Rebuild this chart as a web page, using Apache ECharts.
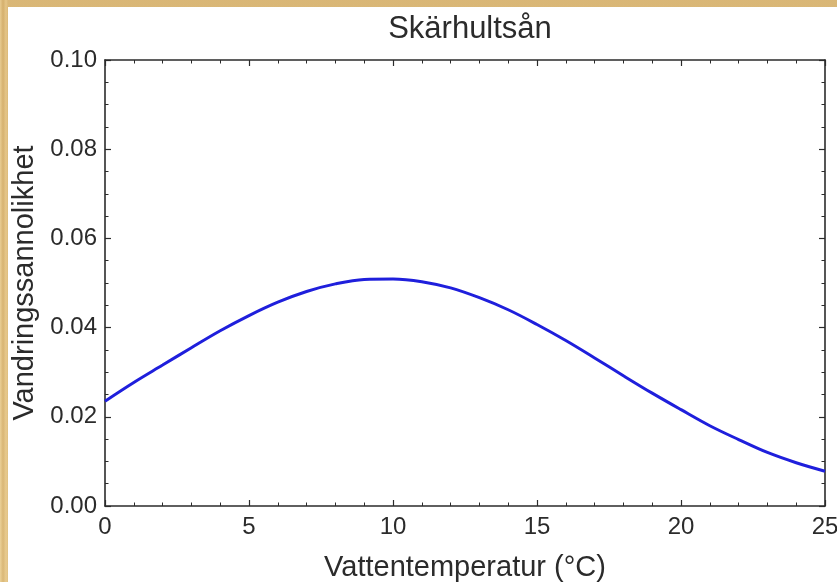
<!DOCTYPE html>
<html>
<head>
<meta charset="utf-8">
<title>Skärhultsån</title>
<script src="https://cdn.jsdelivr.net/npm/echarts@6/dist/echarts.min.js"></script>
<style>
  html, body { margin: 0; padding: 0; }
  body {
    width: 837px; height: 582px; overflow: hidden; position: relative;
    background-color: #e1c286;
    background-image:
      linear-gradient(90deg, rgba(240,215,160,0.6) 0px, rgba(205,165,95,0.5) 3px, rgba(235,205,145,0.6) 6px, rgba(215,180,115,0.4) 8px),
      linear-gradient(0deg, rgba(236,210,150,0.5), rgba(214,176,108,0.5));
  }
  #paper { position: absolute; left: 8px; top: 7px; right: 0; bottom: 0; background: #ffffff; }
  #chart { position: absolute; left: 0; top: 0; width: 837px; height: 582px; }
</style>
</head>
<body>
<div id="paper"></div>
<div id="chart"></div>
<script>
// Water temperature (°C) and migration probability
var temperatures = [0, 1, 2, 3, 4, 5, 6, 7, 8, 9, 10, 11, 12, 13, 14, 15, 16, 17, 18, 19, 20, 21, 22, 23, 24, 25];
var probabilities = [0.0235, 0.0277, 0.0316, 0.0355, 0.0393, 0.0427, 0.0457, 0.0481, 0.0498, 0.0508, 0.0509,
                     0.0503, 0.0489, 0.0467, 0.0440, 0.0407, 0.0371, 0.0332, 0.0292, 0.0253, 0.0216,
                     0.0180, 0.0149, 0.0120, 0.0097, 0.0078];
var xTicks = [0, 5, 10, 15, 20, 25];
var yTicks = [0.00, 0.02, 0.04, 0.06, 0.08, 0.10];

var FONT = '"Liberation Sans", Arial, sans-serif';
var INK = '#2b2b2b';

var points = temperatures.map(function (t, i) { return [t, probabilities[i]]; });

function frameAxis(extra) {
  var base = {
    axisLine: { show: true, onZero: false, lineStyle: { color: INK, width: 1.6 } },
    axisTick: { show: true, inside: true, length: 6, lineStyle: { color: INK, width: 1.2 } },
    splitLine: { show: false },
    axisLabel: { show: false }
  };
  for (var k in extra) base[k] = extra[k];
  return base;
}

function minor(n) {
  return { show: true, splitNumber: n, length: 3.5, lineStyle: { color: INK, width: 1 } };
}

var chart = echarts.init(document.getElementById('chart'), null, { renderer: 'canvas' });
chart.setOption({
  backgroundColor: 'transparent',
  animation: false,
  title: {
    text: 'Skärhultsån',
    left: 465, top: 9, textAlign: 'center',
    textStyle: { fontFamily: FONT, fontSize: 31, fontWeight: 'normal', color: INK }
  },
  grid: { left: 105, top: 60, right: 12, bottom: 76, containLabel: false, outerBoundsMode: 'none' },
  xAxis: [
    frameAxis({
      type: 'value', min: xTicks[0], max: xTicks[xTicks.length - 1], interval: 5,
      position: 'bottom',
      minorTick: minor(5),
      axisLabel: { show: true, margin: 9, fontFamily: FONT, fontSize: 24, color: INK },
      name: 'Vattentemperatur (°C)', nameLocation: 'middle', nameGap: 47,
      nameTextStyle: { fontFamily: FONT, fontSize: 29, color: INK }
    }),
    frameAxis({
      type: 'value', min: xTicks[0], max: xTicks[xTicks.length - 1], interval: 5,
      position: 'top',
      minorTick: minor(5)
    })
  ],
  yAxis: [
    frameAxis({
      type: 'value', min: yTicks[0], max: yTicks[yTicks.length - 1], interval: 0.02,
      position: 'left',
      minorTick: minor(4),
      axisLabel: {
        show: true, margin: 8, fontFamily: FONT, fontSize: 24, color: INK,
        formatter: function (v) { return v.toFixed(2); }
      },
      name: 'Vandringssannolikhet', nameLocation: 'middle', nameGap: 62, nameRotate: 90,
      nameTextStyle: { fontFamily: FONT, fontSize: 29, color: INK }
    }),
    frameAxis({
      type: 'value', min: yTicks[0], max: yTicks[yTicks.length - 1], interval: 0.02,
      position: 'right',
      minorTick: minor(4)
    })
  ],
  series: [{
    type: 'line',
    xAxisIndex: 0, yAxisIndex: 0,
    data: points,
    smooth: 0.35,
    showSymbol: false,
    clip: true,
    lineStyle: { color: '#1f1fdc', width: 3 }
  }]
});
</script>
</body>
</html>
